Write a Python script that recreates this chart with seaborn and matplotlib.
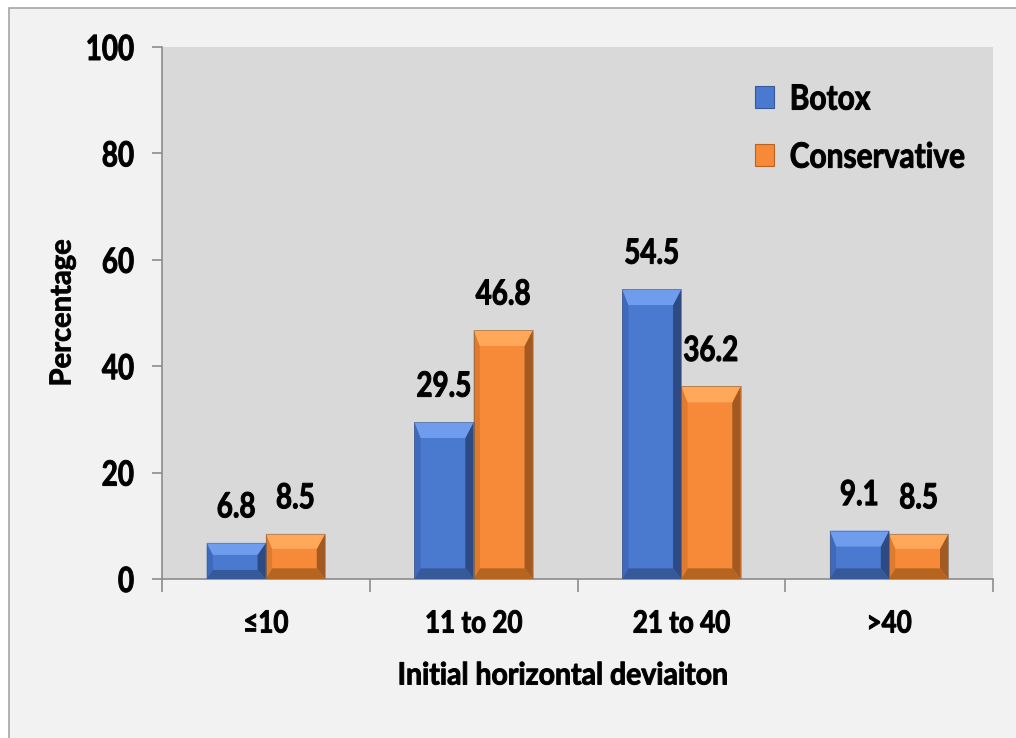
import matplotlib
matplotlib.use("Agg")
import matplotlib.pyplot as plt
from matplotlib.patches import Polygon, Rectangle, Patch
from matplotlib.patheffects import AbstractPathEffect
from matplotlib.transforms import Affine2D
import seaborn as sns
import pandas as pd
import numpy as np

categories = ["≤10", "11 to 20", "21 to 40", ">40"]
botox = [6.8, 29.5, 54.5, 9.1]
conservative = [8.5, 46.8, 36.2, 8.5]
groups = ["Botox", "Conservative"]
yticks = [0, 20, 40, 60, 80, 100]

df = pd.DataFrame({
    "cat": categories * 2,
    "val": botox + conservative,
    "grp": [groups[0]] * 4 + [groups[1]] * 4,
})


class Squeeze(AbstractPathEffect):
    """squash text horizontally and thicken it a bit (original font is a narrow bold)"""

    def __init__(self, sx=0.82, anchor="center", lw=0.7):
        super().__init__()
        self.sx = sx
        self.anchor = anchor
        self.lw = lw

    def draw_path(self, renderer, gc, tpath, affine, rgbFace=None):
        xs = tpath.vertices[:, 0] if len(tpath.vertices) else np.array([0.0])
        if self.anchor == "left":
            cx = 0.0
        elif self.anchor == "right":
            cx = xs.max()
        else:
            cx = (xs.min() + xs.max()) / 2
        t = Affine2D().translate(-cx, 0).scale(self.sx, 1).translate(cx, 0) + affine
        gc0 = renderer.new_gc()
        gc0.copy_properties(gc)
        gc0.set_linewidth(self.lw)
        gc0.set_joinstyle("round")
        renderer.draw_path(gc0, tpath, t, rgbFace)
        gc0.restore()


sns.set_theme(style="white")
font = ["Lato", "DejaVu Sans"]
plt.rcParams["font.family"] = font
plt.rcParams["font.weight"] = "bold"
plt.rcParams["text.color"] = "black"

# main, top light, bottom dark, left, right
shades = {
    "Botox": ["#4a7ad0", "#6f9cec", "#36599a", "#3f6abb", "#2d4a82"],
    "Conservative": ["#f68a38", "#ffa85a", "#b5651f", "#e07a2e", "#a35a22"],
}

fig = plt.figure(figsize=(10.16, 7.38), dpi=100, facecolor="white")
fig.patches.append(Rectangle((9 / 1016, -0.01), 1.02, 1 - 8 / 738 + 0.01,
                             transform=fig.transFigure, facecolor="#f2f2f2",
                             edgecolor="#a6a6a6", lw=1.2, zorder=-10))
ax = fig.add_axes([162 / 1016, 1 - 579 / 738, (993 - 162) / 1016, (579 - 47) / 738])
ax.set_facecolor("#d9d9d9")

sns.barplot(data=df, x="cat", y="val", hue="grp", order=categories,
            hue_order=groups, palette=[shades[g][0] for g in groups],
            width=0.57, gap=0, ax=ax, legend=False, linewidth=0, saturation=1)

ax.set_xlim(-0.5, 3.5)
ax.set_ylim(0, 100)
ax.set_yticks(yticks)

# bevel effect built from each bar's own geometry
bx = 0.04
bl = 0.03
by_top = 3.0
by_bot = 2.0
labels = []
for i, cont in enumerate(ax.containers):
    s = shades[groups[i]]
    for p in cont.patches:
        x0, y0 = p.get_x(), p.get_y()
        x1, y1 = x0 + p.get_width(), y0 + p.get_height()
        bt = min(by_top, (y1 - y0) / 3)
        bb = min(by_bot, (y1 - y0) / 4)
        faces = [
            ([(x0, y0), (x0, y1), (x0 + bl, y1 - bt), (x0 + bl, y0 + bb)], s[3]),
            ([(x1, y0), (x1, y1), (x1 - bx, y1 - bt), (x1 - bx, y0 + bb)], s[4]),
            ([(x0, y1), (x1, y1), (x1 - bx, y1 - bt), (x0 + bl, y1 - bt)], s[1]),
            ([(x0, y0), (x1, y0), (x1 - bx, y0 + bb), (x0 + bl, y0 + bb)], s[2]),
        ]
        for pts, c in faces:
            ax.add_patch(Polygon(pts, closed=True, facecolor=c, lw=0, zorder=3))
        ax.add_patch(Rectangle((x0, y0), x1 - x0, y1 - y0, fill=False,
                               edgecolor="#5a5a5a", lw=0.6, alpha=0.5, zorder=4))
        t = ax.annotate(f"{p.get_height():.1f}", (x0 + (x1 - x0) / 2, y1),
                        xytext=(0, 14), textcoords="offset points", ha="center",
                        va="bottom", fontsize=25, fontweight="bold", color="black")
        labels.append(t)

for side in ["top", "right"]:
    ax.spines[side].set_visible(False)
for side in ["left", "bottom"]:
    ax.spines[side].set_color("#8c8c8c")
    ax.spines[side].set_linewidth(1.2)

ax.tick_params(axis="y", which="major", direction="out", length=7, width=1.2,
               color="#8c8c8c", pad=13, labelsize=25, left=True, labelcolor="black")
ax.tick_params(axis="x", which="major", length=0, pad=22, labelsize=22,
               bottom=True, labelcolor="black")
ax.set_xticks(np.arange(-0.5, 4, 1), minor=True)
ax.tick_params(axis="x", which="minor", direction="out", length=9, width=1.2,
               color="#8c8c8c", bottom=True)

ax.set_xlabel("Initial horizontal deviaiton", fontsize=22, fontweight="bold",
              color="black")
ax.xaxis.set_label_coords(0.482, -0.155)
ax.set_ylabel("Percentage", fontsize=21, fontweight="bold", color="black")
ax.yaxis.set_label_coords(-0.104, 0.5)

handles = [Patch(facecolor=shades[g][0], edgecolor=shades[g][2], lw=0.8) for g in groups]
leg = ax.legend(handles, groups, loc="upper left", bbox_to_anchor=(0.676, 0.99),
                frameon=False, fontsize=25, handlelength=0.55, handleheight=0.6,
                handletextpad=0.45, labelspacing=0.75)

for lab in ax.get_yticklabels():
    lab.set_fontweight("bold")
    lab.set_path_effects([Squeeze(0.8, "right")])
for lab in ax.get_xticklabels():
    lab.set_fontweight("bold")
    lab.set_path_effects([Squeeze(0.85, "center")])
for t in labels:
    t.set_path_effects([Squeeze(0.8, "center")])
for t in leg.get_texts():
    t.set_fontweight("bold")
    t.set_path_effects([Squeeze(0.86, "left")])
ax.xaxis.label.set_path_effects([Squeeze(0.93, "center")])
ax.yaxis.label.set_path_effects([Squeeze(1.0, "center", lw=0.6)])

fig.savefig("out.png", dpi=100, facecolor=fig.get_facecolor())
